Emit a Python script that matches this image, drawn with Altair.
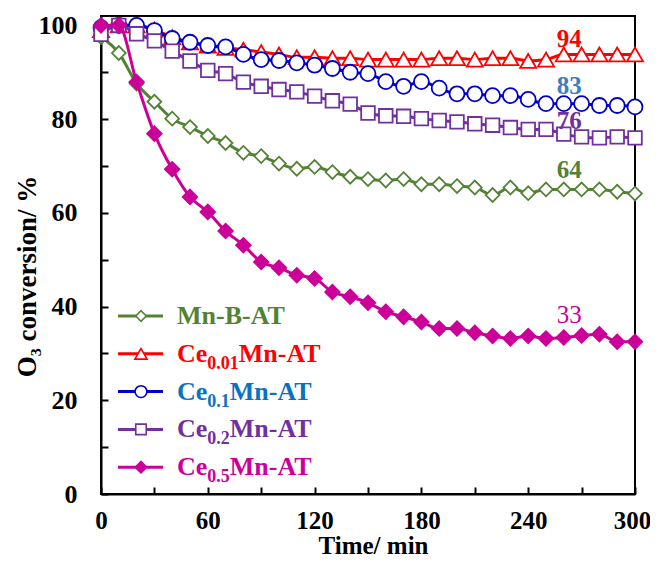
import altair as alt
import pandas as pd

# ---------------- data ----------------
time_min = list(range(0, 301, 10))

mn_b_at = [97.5, 94.1, 87.6, 83.7, 80.1, 78.3, 76.4, 74.9, 72.8, 72.1, 70.5,
           69.4, 69.8, 68.7, 67.7, 67.2, 66.9, 67.2, 66.1, 66.1, 65.7, 65.4,
           63.8, 65.4, 64.2, 65.0, 65.0, 65.0, 65.0, 64.5, 64.1]
ce001_mn_at = [99.0, 100.0, 100.0, 99.1, 97.5, 96.4, 95.7, 95.2, 94.8, 94.3, 93.8,
               93.2, 93.2, 93.0, 93.0, 92.7, 92.7, 92.7, 92.7, 93.0, 93.0, 92.7,
               93.0, 93.0, 92.4, 92.7, 93.8, 93.8, 93.8, 93.8, 93.8]
ce01_mn_at = [99.5, 100.0, 100.0, 98.9, 97.2, 96.4, 95.7, 95.4, 93.8, 92.7, 92.5,
              92.0, 91.5, 90.8, 90.0, 89.7, 88.0, 87.0, 88.0, 86.6, 85.4, 85.4,
              85.0, 85.0, 84.2, 83.3, 83.3, 83.3, 82.9, 82.9, 82.6]
ce02_mn_at = [98.1, 100.0, 98.2, 96.7, 94.5, 92.4, 90.4, 89.7, 87.9, 87.0, 86.3,
              85.8, 84.9, 83.9, 83.2, 81.3, 80.7, 80.6, 80.1, 79.7, 79.4, 79.0,
              78.7, 78.2, 77.8, 77.8, 76.8, 76.2, 76.0, 76.2, 76.0]
ce05_mn_at = [100.0, 100.0, 87.9, 76.9, 69.3, 63.4, 60.2, 56.1, 53.1, 49.5, 48.3,
              46.7, 46.0, 43.1, 42.1, 40.8, 38.9, 37.8, 36.7, 35.3, 35.3, 34.4,
              33.7, 33.2, 33.7, 33.2, 33.4, 33.8, 34.1, 32.5, 32.5]

series_values = [mn_b_at, ce001_mn_at, ce01_mn_at, ce02_mn_at, ce05_mn_at]
legend_main = ["Mn-B-AT", "Ce", "Ce", "Ce", "Ce"]
legend_sub = ["", "0.01", "0.1", "0.2", "0.5"]
legend_tail = ["", "Mn-AT", "Mn-AT", "Mn-AT", "Mn-AT"]

end_labels = ["64", "94", "83", "76", "33"]
end_label_time = [263, 263, 263, 263, 263]
end_label_value = [69.1, 97.0, 87.0, 79.6, 38.2]

x_major = [0, 60, 120, 180, 240, 300]
x_ticks = list(range(0, 301, 30))
y_major = [0, 20, 40, 60, 80, 100]
y_ticks = list(range(0, 101, 10))

# ---------------- styles ----------------
line_colors = ["#548235", "#FF0000", "#0000CC", "#7030A0", "#CC0099"]
text_colors = ["#548235", "#FF0000", "#0A72C2", "#7030A0", "#CC0099"]
label_colors = ["#548235", "#FF0000", "#3A80BE", "#7030A0", "#CC0099"]
label_weights = ["bold", "bold", "bold", "bold", "normal"]
shapes = ["diamond", "triangle-up", "circle", "square", "diamond"]
fills = ["white", "white", "white", "white", "#CC0099"]
sizes = [190, 260, 225, 185, 210]
legend_sizes = [110, 150, 140, 110, 130]

FONT = "'Liberation Serif', 'Times New Roman', Times, serif"
W, H = 534, 478

x_scale = alt.Scale(domain=[0, 300], nice=False, zero=False)
y_scale = alt.Scale(domain=[0, 102], nice=False, zero=True)

x_label_axis = alt.Axis(orient="bottom", values=x_major, ticks=False, tickSize=0,
                        labelPadding=14, labelFlush=False, grid=False,
                        labelOffset={"condition": {"test": "datum.value == 300", "value": -3},
                                     "value": 0},
                        title="Time/ min", titleX=272, titleY=59,
                        titleAlign="center", titleBaseline="alphabetic")
y_label_axis = alt.Axis(orient="left", values=y_major, ticks=False, tickSize=0,
                        labelPadding=24, labelFlush=False, grid=False,
                        labelFontSize=26,
                        title="O₃ conversion/   %", titleX=-74, titleY=260,
                        titleFontSize=27,
                        titleAngle=270, titleAlign="center", titleBaseline="middle")
x_tick_axis = alt.Axis(orient="top", offset=-H, values=x_ticks, labels=False,
                       domain=False, tickSize=7, grid=False, title="")
y_tick_axis = alt.Axis(orient="right", offset=-W, values=y_ticks, labels=False,
                       domain=False, tickSize=7, grid=False, title="")

layers = []
for i, vals in enumerate(series_values):
    d = pd.DataFrame({"t": time_min, "v": vals})
    if i == 0:
        xenc = alt.X("t:Q", scale=x_scale, axis=x_label_axis)
        yenc = alt.Y("v:Q", scale=y_scale, axis=y_label_axis)
    else:
        xenc = alt.X("t:Q", scale=x_scale, axis=None)
        yenc = alt.Y("v:Q", scale=y_scale, axis=None)
    line = alt.Chart(d).mark_line(color=line_colors[i], strokeWidth=3,
                                  interpolate="monotone").encode(x=xenc, y=yenc)
    pts = alt.Chart(d).mark_point(shape=shapes[i], filled=True, fill=fills[i],
                                  stroke=line_colors[i], strokeWidth=1.8,
                                  size=sizes[i], opacity=1).encode(
        x=alt.X("t:Q", scale=x_scale, axis=None),
        y=alt.Y("v:Q", scale=y_scale, axis=None))
    layers += [line, pts]

# end-of-run value labels (first one carries the inward tick axes)
for i, lab in enumerate(end_labels):
    d = pd.DataFrame({"t": [end_label_time[i]], "v": [end_label_value[i]], "lab": [lab]})
    if i == 0:
        xenc = alt.X("t:Q", scale=x_scale, axis=x_tick_axis)
        yenc = alt.Y("v:Q", scale=y_scale, axis=y_tick_axis)
    else:
        xenc = alt.X("t:Q", scale=x_scale, axis=None)
        yenc = alt.Y("v:Q", scale=y_scale, axis=None)
    layers.append(alt.Chart(d).mark_text(font=FONT, fontSize=25,
                                         fontWeight=label_weights[i],
                                         color=label_colors[i], align="center",
                                         baseline="middle").encode(
        x=xenc, y=yenc, text="lab:N"))

# manual legend (to allow subscripts)
adv = {"C": 0.722, "e": 0.444, "0": 0.5, "1": 0.5, "2": 0.5, "5": 0.5, ".": 0.25}


def tw(s, size):
    return sum(adv.get(ch, 0.5) for ch in s) * size


one = pd.DataFrame({"d": [0]})
LEG_X0, LEG_X1, LEG_MX, LEG_TX = 17, 62, 40, 76
LEG_Y0, LEG_DY = 300, 37.8
MAIN_FS, SUB_FS = 26, 18
for i in range(len(series_values)):
    ly = LEG_Y0 + i * LEG_DY
    layers.append(alt.Chart(one).mark_rule(color=line_colors[i], strokeWidth=3).encode(
        x=alt.value(LEG_X0), x2=alt.value(LEG_X1), y=alt.value(ly)))
    layers.append(alt.Chart(one).mark_point(shape=shapes[i], filled=True, fill=fills[i],
                                            stroke=line_colors[i], strokeWidth=1.6,
                                            size=legend_sizes[i], opacity=1).encode(
        x=alt.value(LEG_MX), y=alt.value(ly)))
    base = dict(font=FONT, fontWeight="bold", color=text_colors[i], align="left",
                baseline="alphabetic")
    layers.append(alt.Chart(one).mark_text(fontSize=MAIN_FS, text=legend_main[i], **base).encode(
        x=alt.value(LEG_TX), y=alt.value(ly + 8)))
    if legend_sub[i]:
        xs = LEG_TX + tw(legend_main[i], MAIN_FS)
        layers.append(alt.Chart(one).mark_text(fontSize=SUB_FS, text=legend_sub[i], **base).encode(
            x=alt.value(xs), y=alt.value(ly + 15)))
        xt = xs + tw(legend_sub[i], SUB_FS)
        layers.append(alt.Chart(one).mark_text(fontSize=MAIN_FS, text=legend_tail[i], **base).encode(
            x=alt.value(xt), y=alt.value(ly + 8)))

chart = alt.layer(*layers).resolve_axis(x="independent", y="independent").properties(
    width=W, height=H,
    autosize=alt.AutoSizeParams(type="none"),
    padding={"left": 93, "top": 8, "right": 15, "bottom": 64},
).configure_view(stroke="black", strokeWidth=2).configure_axis(
    labelFont=FONT, labelFontSize=25, labelFontWeight="bold", labelColor="black",
    titleFont=FONT, titleFontSize=25, titleFontWeight="bold", titleColor="black",
    domainColor="black", domainWidth=2, tickColor="black", tickWidth=2, grid=False)

chart.save("out.html", embed_options={"renderer": "svg", "actions": False})
